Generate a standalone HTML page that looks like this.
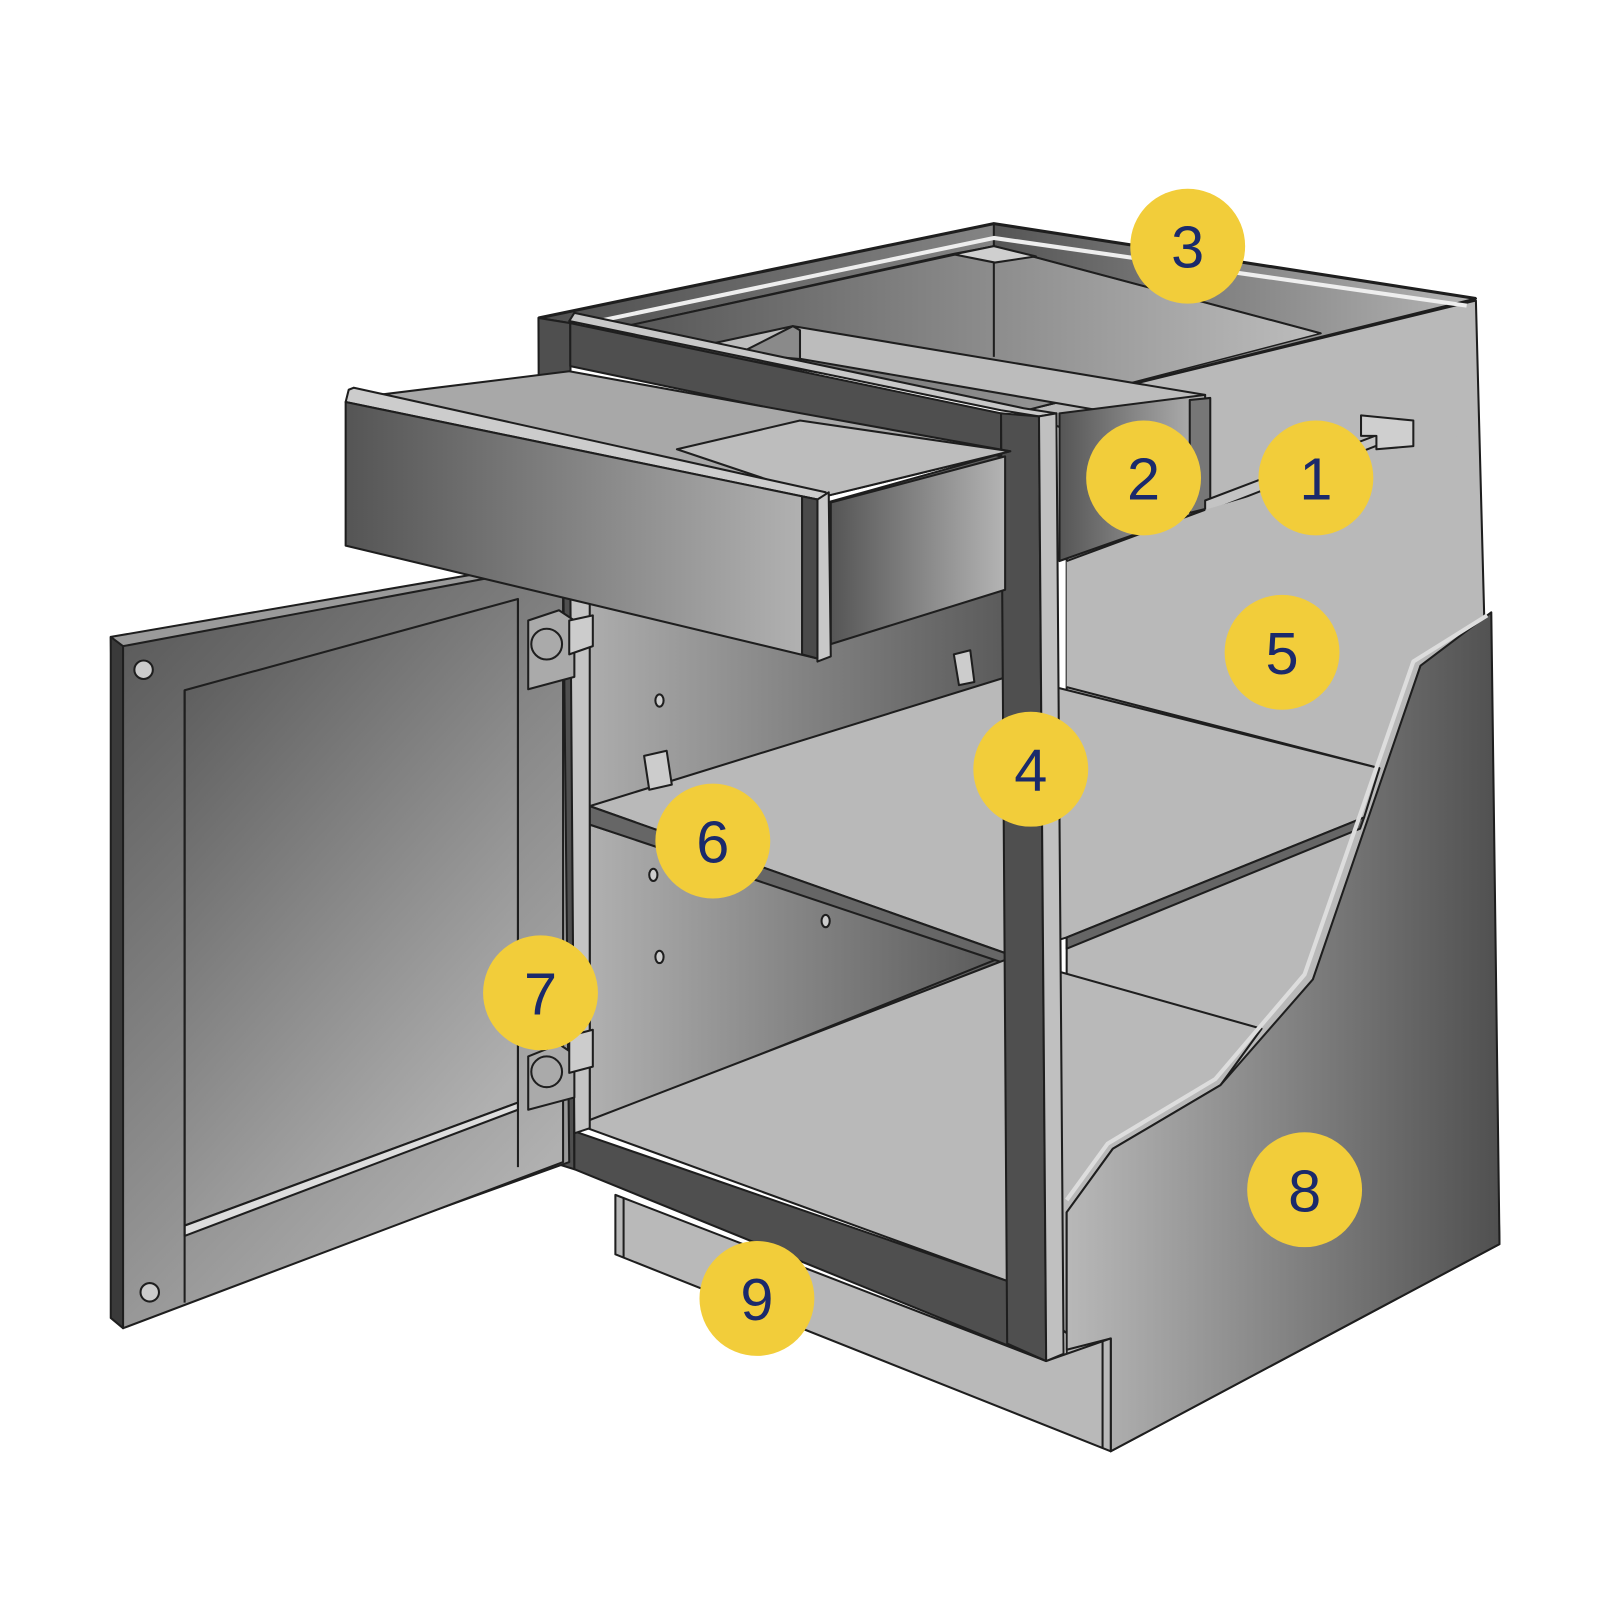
<!DOCTYPE html>
<html><head><meta charset="utf-8"><style>
html,body{margin:0;padding:0;background:#fff;}
svg{display:block;}
text{font-family:"Liberation Sans",sans-serif;font-size:58px;fill:#1b2a6b;text-anchor:middle;font-weight:500;}
</style></head><body>
<svg width="1600" height="1600" viewBox="0 0 1560 1560" xmlns="http://www.w3.org/2000/svg">
<defs>
<linearGradient id="gL" x1="0" x2="1" y1="0" y2="0"><stop offset="0" stop-color="#555"/><stop offset="1" stop-color="#b4b4b4"/></linearGradient>
<linearGradient id="gR" x1="0" x2="1" y1="0" y2="0"><stop offset="0" stop-color="#b8b8b8"/><stop offset="1" stop-color="#505050"/></linearGradient>
<linearGradient id="gDoor" x1="0" x2="0.6" y1="0" y2="1"><stop offset="0" stop-color="#555"/><stop offset="1" stop-color="#b0b0b0"/></linearGradient>
<linearGradient id="gBack" x1="0" x2="1" y1="0" y2="0"><stop offset="0" stop-color="#b0b0b0"/><stop offset="1" stop-color="#5a5a5a"/></linearGradient>
<linearGradient id="gTop" x1="0" x2="1" y1="0" y2="0"><stop offset="0" stop-color="#4e4e4e"/><stop offset="1" stop-color="#bdbdbd"/></linearGradient>
</defs>
<g stroke="#1e1e1e" stroke-width="2" stroke-linejoin="round">
<!-- right side panel -->
<polygon points="1000,400 1439,293 1447,597 1462,1213 1083,1415 1040,1330 1040,420" fill="#b9b9b9"/>
<!-- top interior -->
<polygon points="525,310 969,218 1439,291 1000,400 556,315" fill="url(#gTop)"/>
<polygon points="969,218 1439,291 1000,400 969,345" fill="url(#gL)"/>
<polygon points="610,318 931,247 969,240 1288,325 1000,400 556,320" fill="url(#gTop)" stroke-width="1.5"/>
<polyline points="969,240 969,348" fill="none"/>
<polyline points="525,310 969,218 1439,291" fill="none" stroke-width="3"/>
<polyline points="560,318 969,232 1430,298" fill="none" stroke="#eee" stroke-width="4"/>
<polyline points="610,318 969,240 1288,325" fill="none"/>
<polygon points="930,248 969,240 1010,250 970,256" fill="#cfcfcf"/>
<!-- drawer box behind frame -->
<polygon points="694,335 773,318 1175,385 1100,405" fill="#bcbcbc"/>
<polygon points="773,318 780,322 780,350 720,345" fill="#8a8a8a"/>
<polygon points="1033,403 1175,385 1175,497 1033,547" fill="url(#gL)"/>
<polygon points="1160,390 1180,388 1180,495 1160,500" fill="#777"/>
<!-- rail 1 -->
<polygon points="1175,488 1359,418 1359,428 1175,500" fill="#c4c4c4"/>
<polygon points="1327,405 1378,410 1378,435 1342,438 1342,425 1327,425" fill="#cfcfcf"/>
<!-- interior back wall -->
<polygon points="556,560 985,440 985,660 575,790 575,1100 556,1100" fill="url(#gBack)"/>
<polygon points="575,804 985,940 985,934 575,1092" fill="url(#gBack)"/>
<polygon points="575,804 975,934 575,1095" fill="url(#gBack)"/>
<!-- side interior light areas -->
<polygon points="1040,547 1175,497 1439,420 1439,597 1385,649 1345,749 1040,670" fill="#b9b9b9" stroke="none"/>
<line x1="1040" y1="670" x2="1345" y2="749"/>
<line x1="1040" y1="955" x2="1230" y2="1003"/>
<line x1="1040" y1="547" x2="1175" y2="497"/>
<!-- shelf -->
<polygon points="575,786 985,659 1345,749 1330,797 1040,914 985,931" fill="#b9b9b9"/>
<polygon points="575,786 985,931 985,941 575,804" fill="#666"/>
<polygon points="1040,914 1330,797 1326,808 1040,925" fill="#666"/>
<!-- bottom floor -->
<polygon points="575,1092 985,934 1230,1003 1190,1058 1085,1120 1040,1182 1040,1300 985,1250 570,1099" fill="#b9b9b9"/>
<!-- holes / clips -->
<ellipse cx="643" cy="683" rx="4" ry="6" fill="#ccc"/>
<ellipse cx="637" cy="853" rx="4" ry="6" fill="#ccc"/>
<ellipse cx="643" cy="933" rx="4" ry="6" fill="#ccc"/>
<ellipse cx="805" cy="898" rx="4" ry="6" fill="#ccc"/>
<polygon points="628,737 650,732 655,765 633,770" fill="#ccc"/>
<polygon points="930,638 946,634 950,665 935,668" fill="#ccc"/>
<!-- piece 8 -->
<polygon points="1040,1182 1085,1120 1190,1058 1280,955 1385,649 1454,597 1462,1213 1083,1415 1083,1305 1040,1316" fill="url(#gR)"/>
<polyline points="1040,1170 1080,1115 1185,1052 1272,950 1378,645 1450,600" fill="none" stroke="#ddd" stroke-width="4"/>
<!-- toe kick -->
<polygon points="600,1165 1020,1327 1083,1305 1083,1415 600,1223" fill="#b9b9b9"/>
<line x1="608" y1="1168" x2="608" y2="1226"/>
<line x1="1075" y1="1308" x2="1075" y2="1412"/>
<!-- face frame -->
<polygon points="525,310 556,315 560,1140 528,1130" fill="#4f4f4f"/>
<polygon points="556,315 976,403 976,445 556,357" fill="#4f4f4f"/>
<polygon points="555,313 976,400 1013,406 1030,403 998,398 560,305" fill="#c8c8c8"/>
<polygon points="560,1103 985,1250 985,1280 1020,1327 560,1140" fill="#4f4f4f"/>
<polygon points="976,403 1013,406 1020,1327 982,1310" fill="#4f4f4f"/>
<polygon points="1013,406 1030,403 1037,1320 1020,1327" fill="#c0c0c0"/>
<polygon points="556,560 575,565 575,1100 560,1105" fill="#c4c4c4"/>
<!-- door -->
<polygon points="108,621 549,545 555,1133 118,1290" fill="#9a9a9a"/>
<polygon points="108,621 120,630 120,1295 108,1285" fill="#3a3a3a"/>
<polygon points="120,630 549,550 549,1133 120,1295" fill="url(#gDoor)"/>
<polygon points="180,673 505,584 505,1075 180,1195" fill="url(#gDoor)"/>
<polygon points="180,1195 505,1075 505,1082 180,1205" fill="#ddd"/>
<line x1="180" y1="673" x2="180" y2="1270"/>
<line x1="505" y1="584" x2="505" y2="1138"/>
<circle cx="140" cy="653" r="9" fill="#ccc"/>
<circle cx="146" cy="1260" r="9" fill="#ccc"/>
<!-- hinges -->
<polygon points="515,605 545,595 560,605 560,660 515,672" fill="#aaa"/>
<circle cx="533" cy="628" r="15" fill="#aaa"/>
<polygon points="555,605 578,600 578,630 555,638" fill="#ccc"/>
<polygon points="515,1030 545,1018 560,1028 560,1070 515,1082" fill="#aaa"/>
<circle cx="533" cy="1045" r="15" fill="#aaa"/>
<polygon points="555,1010 578,1004 578,1040 555,1046" fill="#ccc"/>
<!-- drawer -->
<polygon points="345,388 555,362 985,440 800,485" fill="#a8a8a8"/>
<polygon points="660,438 780,410 985,440 800,485" fill="#bdbdbd"/>
<polygon points="810,490 980,445 980,575 810,628" fill="url(#gL)"/>
<polygon points="340,380 345,378 805,480 808,490 797,487 337,392" fill="#ccc"/>
<polygon points="337,392 797,487 797,642 337,532" fill="url(#gL)"/>
<polygon points="797,487 808,480 810,640 797,645" fill="#c8c8c8"/>
<polygon points="782,484 797,487 797,642 782,638" fill="#4a4a4a"/>
</g>
<!-- callouts -->
<g fill="#f2cd3a">
<circle cx="1283" cy="466" r="56"/>
<circle cx="1115" cy="466" r="56"/>
<circle cx="1158" cy="240" r="56"/>
<circle cx="1005" cy="750" r="56"/>
<circle cx="1250" cy="636" r="56"/>
<circle cx="695" cy="820" r="56"/>
<circle cx="527" cy="968" r="56"/>
<circle cx="1272" cy="1160" r="56"/>
<circle cx="738" cy="1266" r="56"/>
</g>
<text x="1283" y="487">1</text>
<text x="1115" y="487">2</text>
<text x="1158" y="261">3</text>
<text x="1005" y="771">4</text>
<text x="1250" y="657">5</text>
<text x="695" y="841">6</text>
<text x="527" y="989">7</text>
<text x="1272" y="1181">8</text>
<text x="738" y="1287">9</text>
</svg>
</body></html>
